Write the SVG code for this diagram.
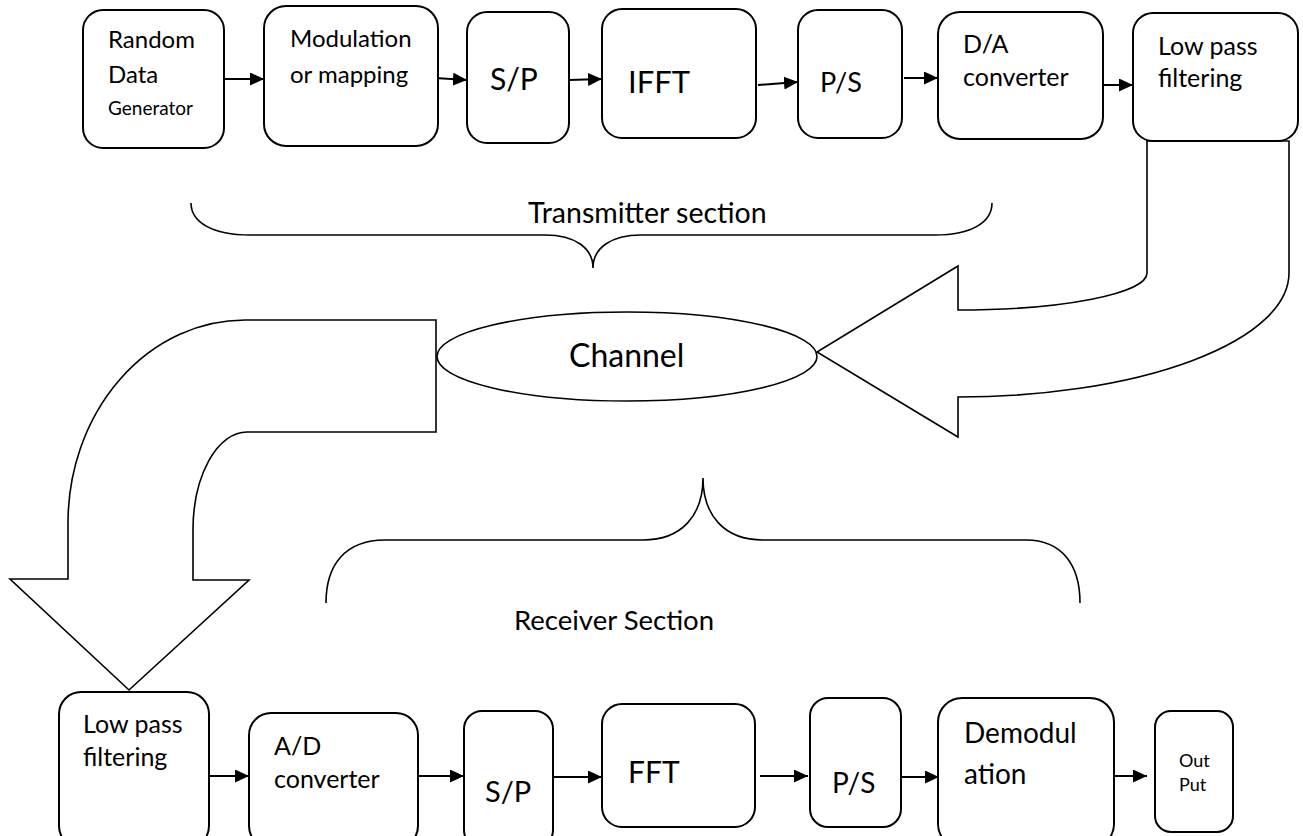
<svg xmlns="http://www.w3.org/2000/svg" width="1303" height="836" viewBox="0 0 1303 836">
<defs>
<marker id="ah" viewBox="0 0 14 13" refX="14" refY="6.5" markerWidth="14" markerHeight="13" markerUnits="userSpaceOnUse" orient="auto">
<path d="M0,0 L14,6.5 L0,13 Z" fill="#000"/>
</marker>
<style>
.box{fill:#fff;stroke:#000;stroke-width:2}
.big{fill:#fff;stroke:#000;stroke-width:1.6;stroke-linejoin:miter}
.brace{fill:none;stroke:#000;stroke-width:1.6}
.conn{fill:none;stroke:#000;stroke-width:2;marker-end:url(#ah)}
text{font-family:Lato,"Open Sans","Liberation Sans",sans-serif;font-weight:400;fill:#000}
.t24{font-size:24px}
.t25{font-size:25px}
</style>
</defs>
<rect width="1303" height="836" fill="#fff"/>

<g id="connectors">
<path class="big" d="M1147,141 L1147,273 A189,37 0 0 1 958,310 L958,266 L817,352 L958,437 L958,397 A331,124 0 0 0 1289,273 L1289,141 Z"/>
<path class="big" d="M436,320 L245,320 A177,203 0 0 0 68,523 L68,579 L10,579 L129,690 L249,580 L193,580 L193,530 A54,98 0 0 1 247,432 L436,432 Z"/>
<line class="conn" x1="224" y1="79" x2="264" y2="79"/>
<line class="conn" x1="435" y1="78" x2="467" y2="80"/>
<line class="conn" x1="569" y1="80" x2="602" y2="79"/>
<line class="conn" x1="758" y1="85" x2="798" y2="82"/>
<line class="conn" x1="904" y1="78" x2="938" y2="78"/>
<line class="conn" x1="1102" y1="85" x2="1133" y2="85"/>
<line class="conn" x1="207" y1="776" x2="249" y2="776"/>
<line class="conn" x1="418" y1="776" x2="464" y2="776"/>
<line class="conn" x1="553" y1="777" x2="602" y2="777"/>
<line class="conn" x1="760" y1="776" x2="808" y2="776"/>
<line class="conn" x1="902" y1="777" x2="939" y2="777"/>
<line class="conn" x1="1115" y1="776" x2="1147" y2="776"/>
</g>

<g id="transmitter-brace">
<path class="brace" d="M191,203 C191,222 212,235 250,235 L545,235 C575,235 593,248 593,268 C593,248 611,235 641,235 L935,235 C972,235 992,222 992,203"/>
<text x="528" y="223" style="font-size:28.5px">Transmitter section</text>
</g>

<g id="receiver-brace">
<path class="brace" d="M326,603 C326,565 345,540 385,540 L643,540 C682,540 703,515 703,478 C703,515 724,540 763,540 L1026,540 C1062,540 1080,565 1080,603"/>
<text x="514" y="630" style="font-size:27.5px">Receiver Section</text>
</g>

<g id="random-data-generator">
<rect class="box" x="83" y="10" width="141" height="138" rx="20"/>
<text class="t24" x="108" y="48">Random</text>
<text class="t24" x="108" y="83">Data</text>
<text x="108" y="115" style="font-size:19px">Generator</text>
</g>

<g id="modulation">
<rect class="box" x="264" y="6" width="174" height="140" rx="22"/>
<text class="t24" x="290" y="47">Modulation</text>
<text class="t24" x="290" y="83">or mapping</text>
</g>

<g id="sp-tx">
<rect class="box" x="467" y="12" width="102" height="131" rx="20"/>
<text x="490" y="90" style="font-size:30px">S/P</text>
</g>

<g id="ifft">
<rect class="box" x="602" y="9" width="154" height="129" rx="20"/>
<text x="628" y="93" style="font-size:31px">IFFT</text>
</g>

<g id="ps-tx">
<rect class="box" x="798" y="10" width="104" height="128" rx="20"/>
<text x="820" y="92" style="font-size:27px">P/S</text>
</g>

<g id="da-converter">
<rect class="box" x="938" y="12" width="165" height="127" rx="22"/>
<text class="t25" x="963" y="53">D/A</text>
<text class="t25" x="963" y="86">converter</text>
</g>

<g id="lpf-tx">
<rect class="box" x="1133" y="13" width="165" height="128" rx="20"/>
<text class="t25" x="1158" y="55">Low pass</text>
<text class="t25" x="1158" y="87">filtering</text>
</g>

<g id="channel">
<ellipse cx="627" cy="356.5" rx="190" ry="44.5" fill="#fff" stroke="#000" stroke-width="1.6"/>
<text x="569" y="367" style="font-size:32px">Channel</text>
</g>

<g id="lpf-rx">
<rect class="box" x="59" y="692" width="150" height="156" rx="22"/>
<text class="t25" x="83" y="733">Low pass</text>
<text class="t25" x="83" y="766">filtering</text>
</g>

<g id="ad-converter">
<rect class="box" x="249" y="713" width="169" height="135" rx="22"/>
<text class="t25" x="274" y="755">A/D</text>
<text class="t25" x="274" y="788">converter</text>
</g>

<g id="sp-rx">
<rect class="box" x="464" y="711" width="89" height="137" rx="18"/>
<text x="485" y="802" style="font-size:29px">S/P</text>
</g>

<g id="fft">
<rect class="box" x="602" y="704" width="153" height="123" rx="20"/>
<text x="628" y="783" style="font-size:30px">FFT</text>
</g>

<g id="ps-rx">
<rect class="box" x="810" y="698" width="91" height="129" rx="18"/>
<text x="832" y="793" style="font-size:28px">P/S</text>
</g>

<g id="demodulation">
<rect class="box" x="938" y="698" width="176" height="150" rx="24"/>
<text x="964" y="743" style="font-size:28px">Demodul</text>
<text x="964" y="784" style="font-size:28px">ation</text>
</g>

<g id="output">
<rect class="box" x="1155" y="711" width="78" height="121" rx="16"/>
<text x="1179" y="767" style="font-size:18px">Out</text>
<text x="1179" y="791" style="font-size:18px">Put</text>
</g>
</svg>
